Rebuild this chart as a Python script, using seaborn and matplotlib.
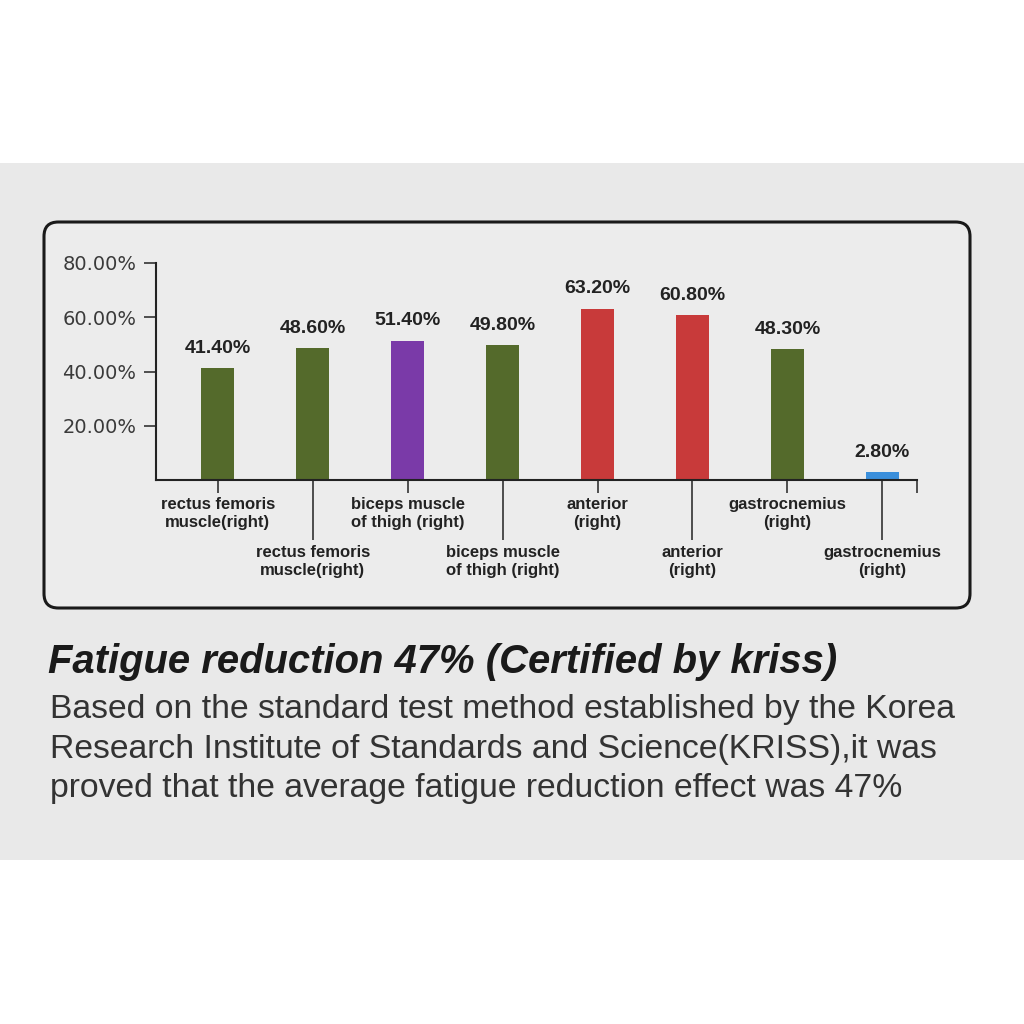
import matplotlib
matplotlib.use("Agg")
import matplotlib.pyplot as plt
from matplotlib.patches import Rectangle, FancyBboxPatch
import pandas as pd
import seaborn as sns

# data
labels = [
    "rectus femoris\nmuscle(right)",
    "rectus femoris\nmuscle(right)",
    "biceps muscle\nof thigh (right)",
    "biceps muscle\nof thigh (right)",
    "anterior\n(right)",
    "anterior\n(right)",
    "gastrocnemius\n(right)",
    "gastrocnemius\n(right)",
]
values = [41.4, 48.6, 51.4, 49.8, 63.2, 60.8, 48.3, 2.8]
bar_colors = ["#546a2b", "#546a2b", "#7a3aa8", "#546a2b",
              "#c83a3a", "#c83a3a", "#546a2b", "#3b8fdb"]
yticks = [20, 40, 60, 80]

df = pd.DataFrame({"slot": [str(i) for i in range(len(values))], "value": values})

sns.set_theme(style="white")
plt.rcParams['font.family'] = ['Liberation Sans', 'DejaVu Sans']

fig = plt.figure(figsize=(10.24, 10.24), dpi=100)
fig.patch.set_facecolor("white")

# grey band and rounded frame (behind the axes)
fig.patches.append(Rectangle((0, 1 - 860 / 1024), 1, (860 - 163) / 1024,
                             transform=fig.transFigure, facecolor="#e9e9e9",
                             edgecolor="none", zorder=-2))
fig.patches.append(FancyBboxPatch((44 / 1024, 1 - 608 / 1024), 926 / 1024, 386 / 1024,
                                  boxstyle="round,pad=0,rounding_size=0.014",
                                  transform=fig.transFigure, facecolor="#ececec",
                                  edgecolor="#1a1a1a", linewidth=2.2, zorder=-1))

ax = fig.add_axes([156 / 1024, 1 - 480 / 1024, (917 - 156) / 1024, (480 - 263) / 1024])
ax.set_facecolor("none")

sns.barplot(data=df, x="slot", y="value", hue="slot", palette=bar_colors,
            legend=False, width=0.35, saturation=1, linewidth=0, ax=ax)

for i, v in enumerate(values):
    ax.annotate(f"{v:.2f}%", (i, v), xytext=(0, 8), textcoords="offset points",
                ha="center", va="bottom", fontsize=14, fontweight="bold",
                color="#222222")

ax.set_xlim(-0.65, 7.365)
ax.set_ylim(0, 80)
ax.set_yticks(yticks)
ax.set_yticklabels([f"{t:.2f}%" for t in yticks], family="DejaVu Sans",
                   fontsize=14, color="#3a3a3a")

# short ticks on even slots, long ones on odd slots
ax.set_xticks([0, 2, 4, 6, 7.36])
ax.set_xticklabels([labels[0], labels[2], labels[4], labels[6], ""])
ax.set_xticks([1, 3, 5, 7], minor=True)
ax.set_xticklabels([labels[1], labels[3], labels[5], labels[7]], minor=True)
for t in ax.get_xticklabels(which="both"):
    t.set_fontsize(12)
    t.set_fontweight("bold")
    t.set_color("#222222")
    t.set_linespacing(1.25)

ax.tick_params(axis="x", which="major", length=9.5, width=1.1, pad=3,
               color="#222222", bottom=True)
ax.tick_params(axis="x", which="minor", length=43, width=1.1, pad=4,
               color="#222222", bottom=True)
ax.tick_params(axis="y", length=9, width=1.1, pad=5, color="#222222", left=True)

ax.set_xlabel("")
ax.set_ylabel("")
for side in ["top", "right"]:
    ax.spines[side].set_visible(False)
for side in ["left", "bottom"]:
    ax.spines[side].set_color("#222222")
    ax.spines[side].set_linewidth(1.5)

fig.text(48 / 1024, 1 - 673 / 1024, "Fatigue reduction 47% (Certified by kriss)",
         fontsize=28.8, fontweight="bold", fontstyle="italic", color="#1a1a1a",
         va="baseline", ha="left")
body = ["Based on the standard test method established by the Korea",
        "Research Institute of Standards and Science(KRISS),it was",
        "proved that the average fatigue reduction effect was 47%"]
for line, base in zip(body, [718, 758, 797]):
    fig.text(50 / 1024, 1 - base / 1024, line, fontsize=24.3, color="#333333",
             va="baseline", ha="left")

fig.savefig("out.png", dpi=100, facecolor="white")
